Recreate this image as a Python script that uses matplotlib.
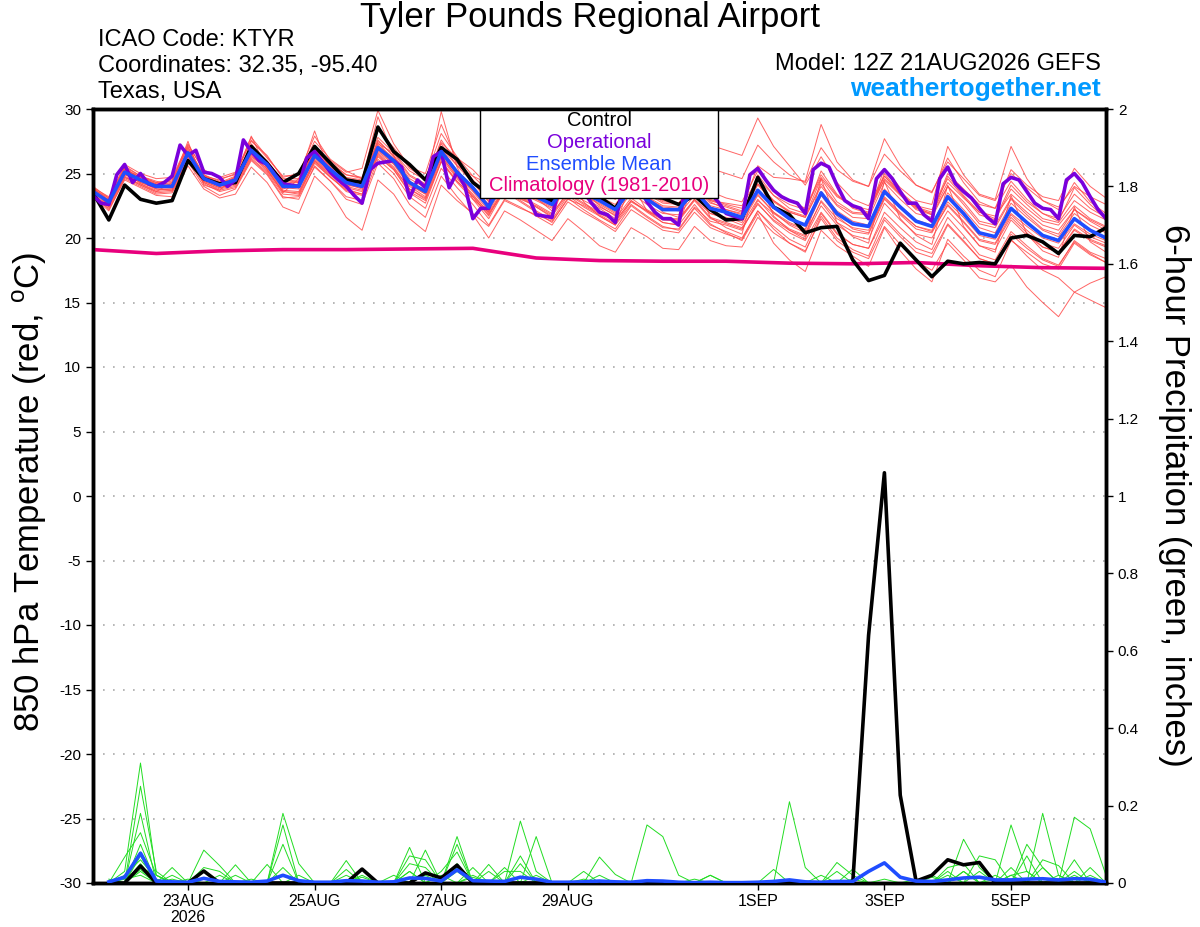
import numpy as np
import matplotlib
matplotlib.use("Agg")
import matplotlib.pyplot as plt
from matplotlib.patches import Rectangle

plt.rcParams["font.family"] = ["Liberation Sans", "DejaVu Sans"]
plt.rcParams["mathtext.fontset"] = "custom"
plt.rcParams["mathtext.rm"] = "Liberation Sans"
plt.rcParams["axes.unicode_minus"] = False

# 850 hPa temperature, 6-hourly from 12Z 21AUG (deg C)
control_t = [23.5, 21.4, 24.1, 23.0, 22.7, 22.9, 26.0, 24.6, 24.2, 24.3,
             27.1, 25.8, 24.3, 25.0, 27.1, 25.8, 24.5, 24.3, 28.6, 26.7,
             25.7, 24.5, 27.0, 26.1, 24.3, 23.4, 24.6, 23.8, 23.3, 22.9,
             24.5, 23.6, 23.2, 22.3, 24.2, 23.2, 23.1, 22.6, 23.3, 22.2,
             21.4, 21.5, 24.7, 22.4, 21.8, 20.4, 20.8, 20.9, 18.3, 16.7,
             17.1, 19.6, 18.3, 17.0, 18.2, 18.0, 18.1, 18.0, 20.0, 20.2,
             19.7, 18.8, 20.2, 20.1, 20.8]

mean_t = [23.6, 22.8, 25.1, 24.5, 24.0, 24.0, 26.6, 24.6, 24.1, 24.5,
          26.8, 25.7, 24.0, 24.0, 26.4, 25.3, 24.3, 24.0, 27.0, 26.0,
          24.3, 23.6, 26.7, 25.1, 23.9, 22.4, 24.5, 23.8, 23.2, 22.6,
          24.3, 23.5, 22.9, 22.2, 23.8, 23.0, 22.2, 22.2, 23.7, 22.3,
          22.0, 21.6, 23.7, 22.4, 21.5, 21.0, 23.5, 21.9, 21.1, 20.9,
          23.6, 22.4, 21.3, 20.9, 23.2, 21.9, 20.4, 20.1, 22.3, 21.2,
          20.2, 19.8, 21.5, 20.6, 20.0]

# operational run, 3-hourly
oper_t = [23.3, 22.7, 22.6, 24.9, 25.7, 24.3, 25.0, 24.2, 24.0, 24.3,
          24.8, 27.2, 26.4, 26.8, 25.1, 25.0, 24.7, 24.0, 24.5, 27.6,
          26.7, 26.0, 25.7, 24.9, 24.2, 24.1, 24.0, 26.2, 26.7, 25.9,
          25.1, 24.5, 24.0, 23.3, 22.7, 25.3, 25.8, 25.9, 26.0, 25.5,
          23.1, 24.5, 23.9, 26.3, 26.7, 23.9, 25.1, 24.0, 21.5, 22.3,
          22.3, 24.6, 25.0, 24.3, 23.8, 23.2, 21.8, 21.7, 21.6, 24.2,
          24.8, 24.0, 23.6, 22.7, 22.0, 21.8, 21.2, 24.1, 24.6, 24.0,
          22.8, 22.0, 21.5, 21.5, 21.0, 24.5, 25.0, 24.2, 23.5, 22.8,
          21.9, 21.7, 21.5, 24.9, 25.4, 24.5, 23.7, 23.2, 22.9, 22.7,
          21.9, 25.3, 25.8, 25.5, 24.1, 22.9, 22.5, 22.3, 21.5, 24.6,
          25.3, 24.6, 23.6, 22.7, 22.7, 21.8, 21.3, 24.6, 25.5, 24.2,
          23.6, 23.1, 22.3, 21.6, 21.1, 24.2, 24.7, 24.5, 23.6, 22.7,
          22.3, 22.2, 21.5, 24.5, 25.0, 24.3, 23.2, 22.2, 21.5]

# climatology, daily
clim_t = [19.1, 18.8, 19.0, 19.1, 19.1, 19.15, 19.2, 18.45, 18.25, 18.2,
          18.2, 18.05, 18.0, 18.1, 17.85, 17.7, 17.65]

temp_members = [
    [23.9, 22.4, 25.6, 24.8, 24.3, 24.5, 27.2, 25.3, 24.6, 24.9, 27.6, 26.2, 24.8, 24.9, 27.5, 26.1, 25.2, 24.6, 28.4, 27.0, 25.4, 24.6, 28.1, 26.3, 24.8, 23.6, 25.7, 24.9, 24.3, 23.8, 25.4, 24.6, 23.9, 23.4, 25.1, 24.2, 23.5, 23.2, 25.0, 23.6, 23.1, 22.8, 25.2, 23.7, 22.9, 22.3, 24.9, 23.3, 22.4, 22.0, 24.8, 23.6, 22.5, 22.2, 24.6, 23.2, 21.8, 21.4, 23.8, 22.6, 21.5, 21.2, 22.9, 22.0, 21.4],
    [23.2, 22.1, 24.6, 24.0, 23.4, 23.5, 25.9, 24.0, 23.3, 23.8, 26.0, 24.9, 23.1, 23.2, 25.5, 24.4, 23.2, 22.9, 26.1, 25.0, 23.2, 22.3, 25.4, 23.9, 22.6, 21.0, 23.0, 22.4, 21.7, 21.0, 22.8, 22.0, 21.3, 20.5, 22.2, 21.4, 20.6, 20.4, 22.0, 20.8, 20.3, 19.9, 22.1, 20.9, 19.9, 19.3, 21.9, 20.3, 19.5, 19.2, 22.0, 20.8, 19.7, 19.1, 21.6, 20.2, 18.7, 18.3, 20.5, 19.4, 18.4, 17.9, 19.7, 18.8, 18.1],
    [23.8, 23.1, 25.4, 24.2, 23.6, 24.3, 27.5, 24.1, 23.7, 24.8, 27.9, 25.3, 23.5, 24.6, 28.3, 25.0, 23.9, 24.5, 29.4, 26.4, 23.7, 24.0, 29.8, 25.5, 23.0, 22.0, 25.3, 23.2, 22.4, 21.6, 24.9, 22.8, 21.7, 21.0, 24.3, 22.1, 21.2, 21.0, 24.5, 21.6, 20.8, 20.3, 24.8, 21.7, 20.6, 19.9, 24.6, 21.2, 20.1, 19.6, 24.4, 21.5, 20.2, 19.5, 24.1, 20.9, 19.4, 18.9, 23.3, 20.3, 19.0, 18.5, 22.4, 19.7, 18.9],
    [23.5, 22.9, 25.0, 24.6, 24.2, 23.9, 26.4, 24.9, 24.4, 24.3, 26.5, 25.9, 24.5, 24.3, 26.8, 25.8, 24.9, 24.6, 27.3, 26.6, 25.2, 24.5, 27.4, 26.2, 25.3, 24.0, 26.0, 25.4, 25.0, 24.6, 26.1, 25.7, 25.3, 24.8, 26.4, 25.8, 25.2, 25.0, 26.7, 25.4, 25.0, 24.6, 27.2, 25.9, 24.9, 24.3, 27.0, 25.3, 24.4, 24.0, 26.5, 25.2, 24.1, 23.6, 25.9, 24.6, 23.3, 22.9, 25.0, 23.9, 22.9, 22.4, 24.0, 23.2, 22.6],
    [23.7, 22.6, 24.9, 24.4, 23.8, 23.7, 26.2, 24.4, 23.9, 24.2, 26.3, 25.4, 23.7, 23.6, 26.0, 24.8, 23.6, 23.3, 26.4, 25.3, 23.5, 22.7, 25.9, 24.3, 23.0, 21.5, 23.7, 22.9, 22.1, 21.4, 23.3, 22.4, 21.7, 21.0, 22.6, 21.7, 20.9, 20.6, 22.3, 21.0, 20.5, 20.0, 22.1, 20.7, 19.6, 19.0, 21.5, 19.8, 18.9, 18.4, 20.9, 19.5, 18.2, 17.5, 19.6, 18.3, 16.9, 16.6, 17.9, 16.2, 15.0, 13.9, 15.8, 15.2, 14.6],
    [23.4, 23.0, 25.3, 24.7, 24.1, 24.2, 26.8, 24.7, 24.0, 24.6, 27.0, 25.5, 23.8, 24.2, 26.6, 25.6, 24.5, 24.3, 27.6, 26.3, 24.6, 23.9, 27.0, 25.6, 24.8, 24.2, 26.3, 25.9, 25.8, 25.5, 26.9, 26.6, 26.2, 26.0, 27.4, 27.1, 27.6, 27.9, 28.3, 27.2, 26.8, 26.4, 29.3, 27.1, 25.6, 24.1, 26.3, 24.3, 23.0, 22.5, 24.8, 23.4, 22.2, 21.8, 24.0, 22.8, 21.3, 21.0, 23.1, 22.0, 21.0, 20.6, 22.2, 21.4, 20.8],
    [23.6, 22.7, 25.2, 24.5, 23.9, 24.1, 26.7, 24.5, 24.0, 24.4, 26.9, 25.8, 24.1, 23.9, 26.3, 25.2, 24.2, 23.8, 26.8, 25.8, 24.1, 23.4, 26.5, 24.9, 23.6, 22.1, 24.2, 23.5, 22.9, 22.3, 24.0, 23.3, 22.7, 22.0, 24.1, 23.2, 22.5, 22.4, 24.4, 23.0, 22.6, 22.3, 25.6, 24.7, 24.6, 24.4, 28.8, 25.9, 24.5, 24.0, 27.7, 25.6, 24.1, 23.5, 26.2, 24.3, 22.8, 22.3, 24.4, 23.0, 21.9, 21.5, 23.4, 22.3, 21.6],
    [23.3, 22.5, 24.8, 24.1, 23.5, 23.6, 26.0, 24.2, 23.6, 23.9, 26.1, 25.0, 23.2, 23.0, 25.6, 24.4, 23.0, 22.6, 25.8, 24.6, 22.6, 21.6, 24.8, 23.2, 21.8, 20.0, 22.1, 21.4, 20.6, 19.8, 21.5, 20.5, 19.4, 18.9, 20.8, 20.1, 19.2, 19.1, 20.9, 19.8, 19.4, 19.3, 21.6, 20.4, 19.6, 18.9, 21.7, 20.0, 19.1, 18.6, 21.4, 20.1, 18.9, 18.5, 21.0, 19.7, 18.4, 18.0, 20.3, 19.2, 18.3, 17.8, 19.8, 18.9, 18.4],
    [23.9, 23.2, 25.5, 24.8, 24.4, 24.1, 26.5, 24.8, 24.3, 24.6, 26.6, 25.6, 24.0, 24.1, 26.1, 25.0, 24.0, 23.7, 26.6, 25.5, 23.8, 23.1, 26.2, 24.6, 23.3, 22.0, 23.9, 23.2, 22.6, 21.9, 23.5, 22.7, 22.0, 21.3, 22.9, 22.0, 21.2, 21.0, 22.6, 21.1, 20.4, 19.8, 21.9, 19.6, 18.3, 17.4, 20.6, 19.4, 18.6, 17.8, 20.8, 19.0, 17.6, 16.6, 19.9, 18.6, 17.5, 17.0, 19.8, 18.9, 18.0, 17.6, 19.6, 18.7, 18.1],
    [23.4, 22.6, 25.5, 24.4, 24.1, 24.6, 27.0, 24.9, 24.2, 24.7, 27.3, 25.9, 24.2, 24.3, 26.9, 25.6, 24.4, 24.1, 27.2, 26.2, 24.4, 23.6, 27.0, 25.2, 23.7, 22.3, 24.8, 24.0, 23.1, 22.1, 24.6, 23.7, 22.5, 21.7, 24.3, 23.3, 22.0, 21.6, 24.2, 22.8, 22.2, 21.8, 24.9, 23.3, 22.3, 21.9, 25.2, 23.4, 22.3, 21.9, 25.0, 23.5, 22.4, 21.8, 24.8, 23.3, 22.0, 21.5, 24.1, 22.8, 21.9, 21.3, 23.9, 22.6, 21.5],
    [23.1, 22.3, 24.7, 24.2, 23.7, 23.8, 26.3, 24.3, 23.8, 24.1, 26.4, 25.2, 23.6, 23.4, 25.9, 24.7, 23.8, 23.4, 26.5, 25.4, 23.8, 23.0, 26.0, 24.4, 23.2, 21.7, 23.8, 23.0, 22.5, 21.8, 23.6, 22.9, 22.3, 21.5, 23.1, 22.2, 21.5, 21.4, 23.0, 21.6, 21.2, 20.8, 22.6, 21.4, 20.6, 20.1, 22.5, 21.0, 20.2, 19.9, 22.7, 21.4, 20.3, 20.0, 22.1, 20.8, 19.4, 19.1, 21.4, 20.2, 19.3, 18.9, 20.6, 19.8, 19.3],
    [23.8, 23.0, 25.3, 24.7, 24.3, 24.4, 27.1, 24.8, 24.5, 25.0, 27.8, 26.3, 24.7, 25.0, 27.9, 26.0, 25.1, 25.4, 29.9, 27.3, 25.5, 25.0, 28.8, 26.0, 24.5, 23.3, 25.3, 24.3, 23.8, 23.3, 25.0, 24.2, 23.6, 23.0, 24.6, 23.6, 22.9, 22.7, 24.3, 22.9, 22.5, 22.1, 24.2, 22.9, 22.0, 21.6, 24.0, 22.5, 21.6, 21.5, 24.3, 23.0, 21.9, 21.6, 24.0, 22.6, 21.1, 20.8, 23.0, 21.8, 20.7, 20.3, 22.2, 21.3, 20.6],
    [23.5, 22.2, 24.5, 23.9, 23.3, 23.2, 25.6, 23.8, 23.1, 23.4, 25.5, 24.3, 22.4, 21.9, 24.8, 23.6, 21.6, 20.6, 24.5, 23.4, 21.5, 20.5, 24.1, 22.9, 21.9, 20.9, 22.9, 22.3, 21.8, 21.3, 23.0, 22.5, 21.8, 21.1, 22.8, 22.1, 21.5, 21.5, 23.0, 21.9, 21.6, 21.2, 23.3, 22.0, 21.0, 20.4, 22.8, 21.2, 20.5, 20.3, 23.0, 21.8, 20.7, 20.4, 22.6, 21.3, 19.9, 19.6, 21.8, 20.6, 19.6, 19.2, 21.0, 20.1, 19.6],
    [23.6, 22.9, 25.0, 24.3, 23.9, 23.9, 26.5, 24.6, 24.1, 24.4, 26.7, 25.6, 23.9, 23.8, 26.2, 25.1, 24.1, 23.9, 26.9, 25.8, 24.2, 23.5, 26.6, 25.0, 23.8, 22.6, 24.6, 24.0, 23.4, 22.9, 24.5, 23.8, 23.2, 22.6, 24.2, 23.4, 22.7, 22.6, 24.0, 22.7, 22.4, 22.0, 24.1, 22.8, 22.0, 21.6, 24.2, 22.6, 21.9, 21.8, 24.6, 23.4, 22.4, 22.0, 25.0, 23.8, 22.6, 22.3, 25.3, 24.1, 23.2, 22.9, 25.4, 24.0, 23.1],
    [23.7, 22.8, 25.2, 24.6, 24.0, 24.1, 26.6, 24.7, 24.2, 24.5, 26.8, 25.7, 24.1, 24.1, 26.5, 25.4, 24.4, 24.1, 27.1, 26.1, 24.4, 23.7, 26.8, 25.2, 24.0, 22.5, 24.5, 23.9, 23.3, 22.7, 24.4, 23.6, 23.0, 22.4, 24.0, 23.1, 22.4, 22.3, 23.9, 22.5, 22.2, 21.9, 24.2, 22.9, 22.1, 21.7, 24.6, 22.8, 22.0, 21.9, 25.4, 23.9, 22.9, 22.6, 27.1, 24.9, 23.4, 23.0, 27.1, 24.6, 22.9, 22.2, 24.3, 22.8, 21.9],
    [23.3, 22.5, 24.7, 24.1, 23.6, 23.7, 26.1, 24.3, 23.7, 24.0, 26.2, 25.1, 23.4, 23.3, 25.8, 24.7, 23.7, 23.4, 26.3, 25.3, 23.6, 22.9, 25.9, 24.4, 23.2, 21.8, 23.9, 23.1, 22.4, 21.7, 23.4, 22.6, 21.9, 21.3, 22.9, 22.1, 21.4, 21.3, 22.9, 21.5, 21.1, 20.7, 22.7, 21.3, 20.4, 19.8, 22.0, 20.4, 19.5, 19.2, 21.6, 20.3, 19.2, 18.8, 21.1, 19.8, 18.4, 18.0, 19.9, 18.6, 17.5, 16.9, 15.8, 16.5, 17.0],
    [24.0, 23.1, 25.7, 25.0, 24.6, 24.7, 27.3, 25.2, 24.7, 25.1, 27.5, 26.4, 24.6, 24.6, 27.0, 25.9, 24.9, 24.7, 27.8, 26.6, 24.9, 24.2, 27.6, 25.8, 24.4, 22.9, 24.9, 24.1, 23.3, 22.6, 24.1, 23.2, 22.4, 21.8, 23.5, 22.6, 21.9, 21.8, 23.3, 21.9, 21.5, 21.0, 23.0, 21.6, 20.7, 20.2, 22.9, 21.5, 20.8, 20.6, 23.1, 21.9, 20.9, 20.6, 22.8, 21.6, 20.2, 19.9, 21.9, 20.9, 20.0, 19.6, 21.1, 20.3, 19.8],
    [23.5, 22.7, 24.9, 24.5, 24.1, 24.0, 26.4, 24.5, 24.2, 24.7, 26.9, 25.6, 24.2, 24.4, 26.7, 25.5, 24.6, 24.4, 27.4, 26.0, 24.2, 23.4, 26.3, 24.8, 23.7, 22.6, 24.7, 24.3, 23.9, 23.4, 24.9, 24.4, 23.8, 23.1, 24.6, 23.6, 22.8, 22.7, 24.1, 22.9, 22.7, 22.5, 24.6, 23.3, 22.6, 22.2, 24.7, 23.2, 22.5, 22.2, 24.5, 23.3, 22.3, 21.9, 24.3, 23.1, 22.0, 21.7, 23.4, 22.3, 21.3, 21.0, 22.5, 21.5, 20.9],
    [23.2, 22.4, 25.0, 24.3, 23.8, 23.8, 26.7, 24.4, 23.9, 24.2, 26.6, 25.3, 23.6, 23.5, 26.0, 24.9, 23.9, 23.6, 26.7, 25.7, 24.0, 23.2, 26.4, 24.7, 23.4, 21.9, 23.6, 22.8, 22.0, 21.2, 23.1, 22.2, 21.4, 20.7, 22.5, 21.6, 20.8, 20.7, 22.4, 21.3, 21.0, 20.6, 22.9, 21.9, 21.1, 20.6, 23.3, 21.7, 20.7, 20.4, 23.2, 22.0, 20.9, 20.5, 22.5, 21.2, 19.8, 19.5, 21.6, 20.4, 19.3, 18.9, 20.7, 19.9, 19.4],
    [23.9, 22.9, 25.4, 24.7, 24.2, 24.3, 26.9, 24.8, 24.3, 24.8, 27.1, 26.0, 24.4, 24.5, 26.9, 25.7, 24.7, 24.5, 27.5, 26.4, 24.8, 24.1, 27.3, 25.6, 24.3, 22.8, 24.4, 23.7, 23.0, 22.4, 24.2, 23.3, 22.6, 21.9, 23.9, 23.0, 22.3, 22.1, 23.8, 22.4, 21.9, 21.4, 23.4, 22.0, 21.2, 20.7, 23.6, 22.1, 21.3, 21.0, 23.8, 22.5, 21.4, 21.0, 23.5, 22.2, 20.8, 20.4, 22.7, 21.6, 20.6, 20.1, 21.9, 21.0, 20.4],
]

# 6-hour precipitation (inches), 6-hourly from 18Z 21AUG
control_p = [0, 0, .044, 0, 0, 0, .031, 0,
             0, 0, 0, 0, 0, 0, 0, 0,
             .036, 0, 0, 0, .026, .013, .046, 0,
             0, 0, 0, 0, 0, 0, 0, 0,
             0, 0, 0, 0, 0, 0, 0, 0,
             0, 0, 0, 0, 0, 0, 0, 0,
             .64, 1.06, .227, .005, .02, .06, .047, .053,
             0, 0, 0, 0, 0, 0, 0, 0]

mean_p = [.003, .015, .077, .005, .003, .002, .012, .004,
          .003, .002, .005, .02, .006, .002, .002, .006,
          .005, .002, .003, .013, .012, .005, .034, .006,
          .005, .004, .015, .01, .002, .002, .003, .005,
          .003, .002, .006, .005, .002, .001, .002, .001,
          .001, .002, .004, .008, .003, .002, .004, .004,
          .03, .052, .015, .005, .004, .008, .013, .015,
          .008, .008, .01, .011, .008, .011, .01, .002]

precip_members = [
    [0, .03, .31, .02, 0, 0, 0, 0,  0, 0, 0, .04, 0, 0, 0, 0,  0, 0, 0, .03, 0, 0, .05, 0,  0, 0, .16, .03, 0, 0, 0, 0,
     0, 0, 0, 0, 0, 0, 0, 0,  0, 0, 0, 0, 0, 0, 0, 0,  0, 0, 0, 0, 0, 0, .03, 0,  0, 0, 0, .18, .02, 0, 0, 0],
    [0, 0, .25, .03, 0, 0, .085, .045,  0, 0, 0, 0, 0, 0, 0, 0,  0, 0, 0, 0, .085, 0, .12, 0,  0, 0, 0, 0, 0, 0, 0, 0,
     0, 0, 0, 0, 0, 0, 0, 0,  0, 0, 0, .21, .04, 0, 0, 0,  0, 0, 0, 0, 0, 0, 0, 0,  0, .02, 0, 0, 0, .06, 0, 0],
    [0, 0, .18, 0, 0, 0, 0, 0,  0, 0, 0, .18, .05, 0, 0, 0,  0, 0, 0, .092, 0, 0, 0, .04,  0, 0, 0, 0, 0, 0, 0, 0,
     0, 0, .15, .12, .02, 0, 0, 0,  0, 0, 0, 0, 0, 0, 0, 0,  0, 0, 0, 0, 0, 0, 0, .07,  .06, 0, 0, 0, 0, .17, .14, .02],
    [0, .067, .13, .02, 0, 0, 0, 0,  0, 0, 0, .15, 0, 0, 0, .058,  0, 0, 0, 0, 0, 0, .10, 0,  0, 0, 0, .12, 0, 0, 0, 0,
     0, 0, 0, 0, 0, 0, 0, 0,  0, 0, 0, 0, 0, 0, .053, .02,  0, 0, 0, 0, 0, 0, 0, 0,  0, .15, .03, 0, 0, 0, 0, 0],
    [0, 0, .10, 0, 0, 0, 0, 0,  .047, 0, .048, 0, 0, 0, 0, 0,  0, 0, 0, .07, .06, 0, 0, 0,  .048, 0, 0, 0, 0, 0, 0, .067,
     .022, 0, 0, 0, 0, 0, 0, 0,  0, 0, 0, 0, 0, 0, 0, 0,  0, 0, 0, 0, 0, 0, .113, .04,  0, 0, .10, .04, 0, 0, 0, 0],
    [0, 0, .08, 0, .04, 0, 0, 0,  0, 0, 0, .10, 0, 0, 0, .035,  0, 0, 0, 0, 0, .03, .08, 0,  0, .04, 0, 0, 0, 0, .03, 0,
     0, 0, 0, 0, 0, 0, .02, 0,  0, 0, 0, 0, 0, 0, 0, 0,  0, 0, 0, 0, 0, .04, .05, 0,  0, 0, 0, .06, .045, 0, 0, 0],
    [0, 0, .07, 0, 0, 0, .04, .03,  0, 0, 0, 0, 0, 0, 0, 0,  0, 0, 0, .05, .04, 0, 0, 0,  0, 0, .07, 0, 0, 0, 0, 0,
     0, 0, 0, 0, 0, 0, 0, 0,  0, 0, .035, 0, 0, 0, 0, .036,  0, 0, 0, 0, 0, .03, 0, 0,  0, 0, .07, 0, 0, .03, 0, 0],
    [0, .02, .06, .01, 0, 0, 0, 0,  .02, 0, 0, 0, .02, 0, 0, 0,  .02, 0, 0, 0, 0, 0, .04, 0,  .03, 0, 0, 0, 0, 0, 0, 0,
     0, 0, 0, 0, 0, 0, .02, 0,  0, 0, 0, 0, 0, 0, .03, 0,  0, 0, 0, 0, 0, 0, 0, 0,  .02, 0, 0, 0, 0, 0, .04, 0],
    [0, 0, .05, 0, .02, 0, .03, 0,  0, 0, 0, 0, 0, 0, 0, .02,  0, 0, .02, 0, 0, .02, 0, .02,  0, 0, .05, 0, 0, 0, 0, 0,
     0, 0, 0, 0, 0, 0, 0, 0,  0, 0, 0, 0, 0, .02, 0, 0,  0, 0, 0, 0, .015, 0, .03, 0,  0, .04, 0, 0, 0, 0, 0, 0],
    [0, 0, .04, .02, 0, 0, 0, 0,  0, 0, 0, 0, 0, 0, 0, 0,  0, 0, 0, .03, 0, 0, 0, 0,  0, .03, .03, 0, 0, 0, 0, .02,
     0, 0, 0, 0, 0, 0, 0, 0,  0, 0, 0, 0, 0, 0, 0, 0,  0, 0, 0, .01, 0, 0, 0, .03,  0, 0, 0, .04, 0, 0, 0, 0],
    [.01, 0, .03, 0, .01, 0, 0, 0,  0, .01, 0, 0, 0, 0, 0, 0,  0, 0, 0, 0, .02, 0, .03, 0,  0, 0, 0, 0, 0, 0, 0, 0,
     0, 0, 0, 0, 0, .01, 0, 0,  0, 0, 0, 0, 0, 0, 0, 0,  0, .01, 0, 0, 0, .02, 0, 0,  0, .02, .03, 0, 0, 0, 0, 0],
    [0, .01, .02, 0, 0, .01, 0, 0,  0, 0, 0, 0, 0, 0, 0, 0,  0, 0, 0, 0, 0, 0, 0, 0,  0, 0, 0, .02, 0, 0, 0, 0,
     0, 0, 0, 0, 0, 0, 0, 0,  0, 0, 0, 0, 0, 0, 0, 0,  0, 0, 0, 0, .02, 0, 0, 0,  .01, 0, 0, 0, 0, .02, 0, 0],
    [0, 0, .035, 0, 0, 0, 0, .02,  0, 0, 0, 0, 0, 0, 0, 0,  .015, 0, 0, 0, 0, 0, 0, .015,  0, 0, 0, 0, 0, 0, .01, 0,
     0, 0, 0, 0, 0, 0, 0, 0,  0, 0, 0, 0, 0, 0, 0, .01,  0, 0, 0, 0, 0, 0, 0, 0,  0, 0, 0, 0, .02, 0, .02, 0],
]

tick_hours = [36, 84, 132, 180, 252, 300, 348]
tick_labels = ["23AUG\n2026", "25AUG", "27AUG", "29AUG", "1SEP", "3SEP", "5SEP"]

for mem in temp_members:
    assert len(mem) == 65, len(mem)
for mem in precip_members:
    assert len(mem) == 64, len(mem)

hours6 = np.arange(65) * 6
hours3 = np.arange(129) * 3
hours24 = np.arange(17) * 24
hours_p = np.arange(1, 65) * 6

fig = plt.figure(figsize=(12, 9.27), dpi=100)
ax = fig.add_axes([93 / 1200, 44 / 927, 1013 / 1200, 774 / 927])
ax2 = ax.twinx()

for mem in temp_members:
    ax.plot(hours6, mem, color="#ff4a4a", lw=0.7, alpha=0.85, zorder=2)
ax.plot(hours24, clim_t, color="#e8007d", lw=2.6, zorder=3)
ax.plot(hours6, control_t, color="black", lw=2.6, zorder=4)
ax.plot(hours3, oper_t, color="#7a00dc", lw=2.6, zorder=5)
ax.plot(hours6, mean_t, color="#1f4dff", lw=2.6, zorder=6)

for mem in precip_members:
    ax2.plot(hours_p, mem, color="#22dd22", lw=0.7, zorder=2)
ax2.plot(hours_p, control_p, color="black", lw=2.6, zorder=3)
ax2.plot(hours_p, mean_p, color="#1f4dff", lw=2.6, zorder=4)

ax.set_xlim(0, 384)
ax.set_ylim(-30, 30)
ax2.set_ylim(0, 2)
ax.set_yticks(np.arange(-30, 31, 5))
ax2.set_yticks(np.arange(0, 2.01, 0.2))
ax2.set_yticklabels(["0", "0.2", "0.4", "0.6", "0.8", "1", "1.2", "1.4", "1.6", "1.8", "2"])
ax.set_xticks(tick_hours)
ax.set_xticklabels(tick_labels, fontsize=11.5, linespacing=1.1)
ax.tick_params(axis="y", labelsize=11, direction="out", length=5, width=1)
ax2.tick_params(axis="y", labelsize=11, direction="out", length=5, width=1)
ax.tick_params(axis="x", direction="out", length=5, width=1, pad=3)

ax.yaxis.grid(True, linestyle=(0, (1, 5)), color="#aaaaaa", lw=1.2)
ax.set_axisbelow(True)
for a in (ax, ax2):
    for s in a.spines.values():
        s.set_linewidth(2.5)
        s.set_color("black")

# legend box
ax.add_patch(Rectangle((387 / 1013, 1 - 89 / 774), 238 / 1013, 89 / 774,
                       transform=ax.transAxes, facecolor="white",
                       edgecolor="black", lw=1, zorder=10, clip_on=False))
leg_items = [("Control", "black"), ("Operational", "#7a00dc"),
             ("Ensemble Mean", "#1f4dff"), ("Climatology (1981-2010)", "#e8007d")]
for k, (txt, col) in enumerate(leg_items):
    fig.text(599 / 1200, 1 - (121 + 21.5 * k) / 927, txt, color=col,
             fontsize=14.5, ha="center", va="center", zorder=11)

fig.text(590 / 1200, 1 - 18 / 927, "Tyler Pounds Regional Airport",
         fontsize=25, ha="center", va="center")
fig.text(98 / 1200, 1 - 40 / 927, "ICAO Code: KTYR", fontsize=17, va="center")
fig.text(98 / 1200, 1 - 66 / 927, "Coordinates: 32.35, -95.40", fontsize=17, va="center")
fig.text(98 / 1200, 1 - 92 / 927, "Texas, USA", fontsize=17, va="center")
fig.text(1101 / 1200, 1 - 64 / 927, "Model: 12Z 21AUG2026 GEFS", fontsize=17,
         ha="right", va="center")
fig.text(1101 / 1200, 1 - 89 / 927, "weathertogether.net", fontsize=19,
         fontweight="bold", color="#0099ff", ha="right", va="center")

fig.text(30 / 1200, 1 - 492 / 927, "850 hPa Temperature (red, $^\\mathrm{o}$C)",
         fontsize=25, rotation=90, ha="center", va="center")
fig.text(1175 / 1200, 1 - 495 / 927, "6-hour Precipitation (green, inches)",
         fontsize=25, rotation=-90, ha="center", va="center")

fig.savefig("out.png", dpi=100)
